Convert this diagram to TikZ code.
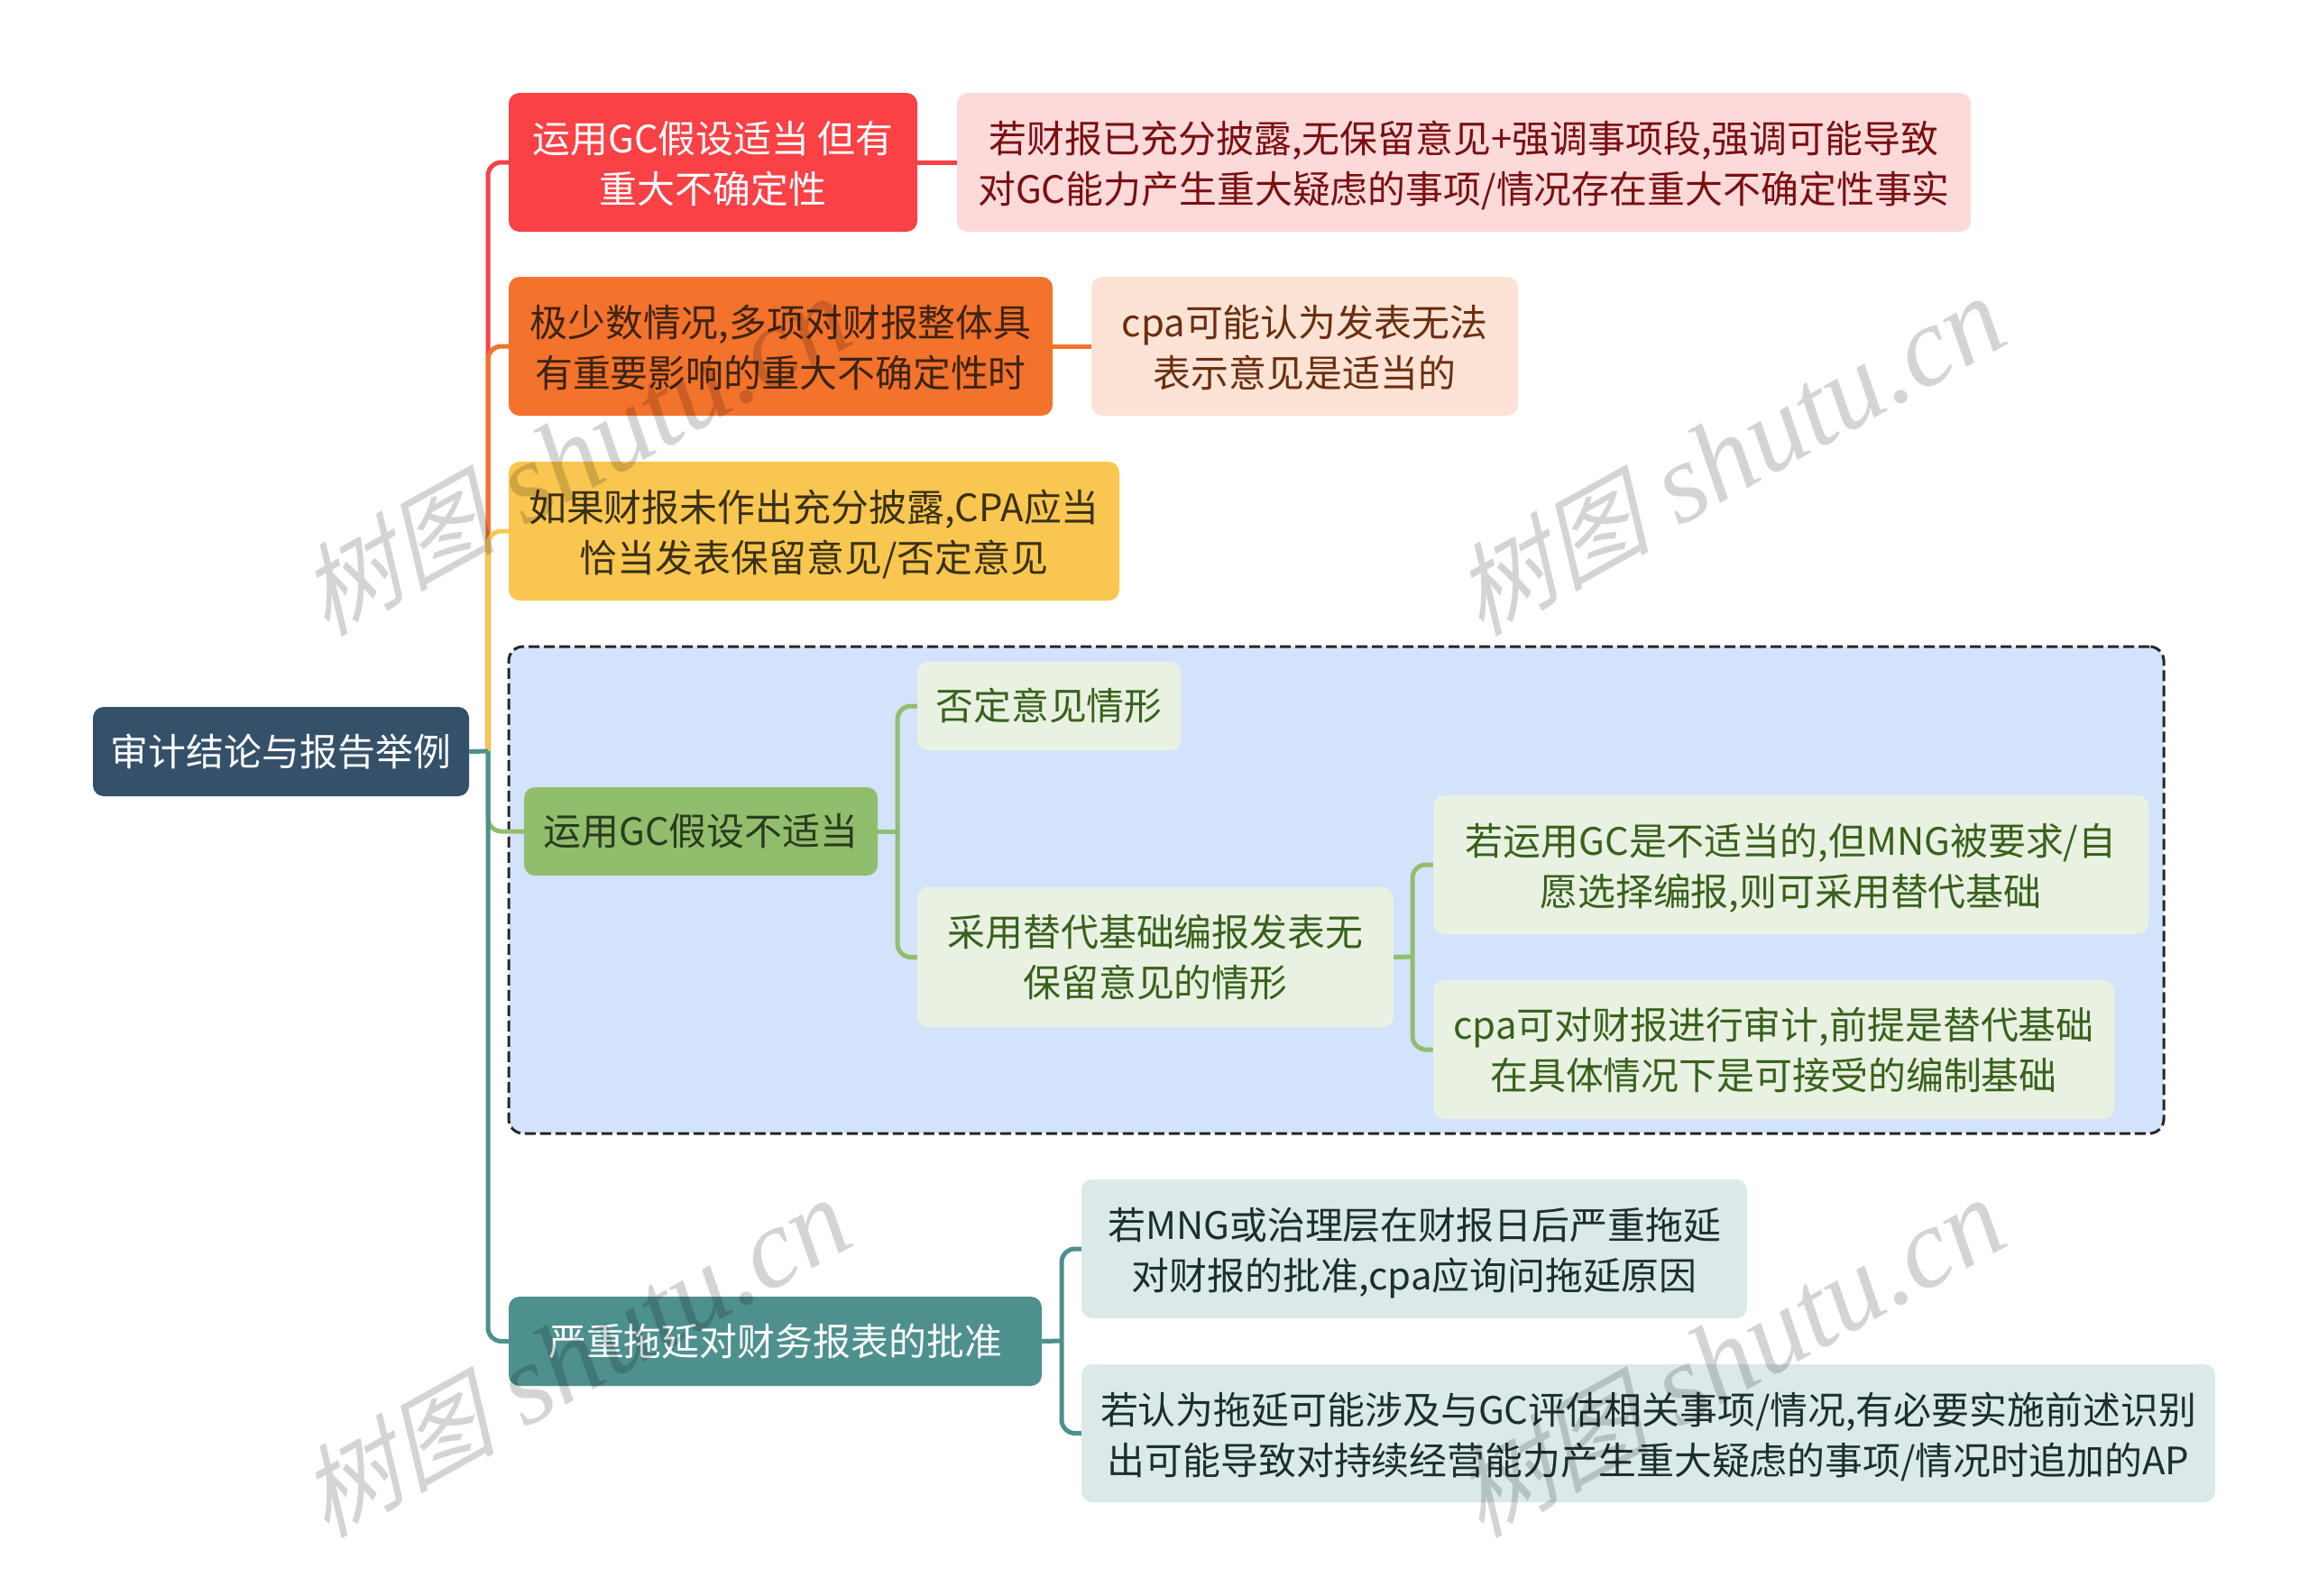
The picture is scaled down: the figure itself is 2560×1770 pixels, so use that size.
\documentclass[tikz,border=0pt]{standalone}
\usepackage{fontspec}
\setmainfont{Noto Sans CJK SC}
\newfontfamily\wmcjk[FakeSlant=0.28]{Noto Sans CJK SC}
\newfontfamily\wmlat{Liberation Serif}
\definecolor{cRed}{HTML}{FA4146}
\definecolor{cOrange}{HTML}{F3722C}
\definecolor{cYellow}{HTML}{F9C74F}
\definecolor{cGreen}{HTML}{90BE6D}
\definecolor{cTeal}{HTML}{4D908E}
\definecolor{cNavy}{HTML}{355069}
\definecolor{lRed}{HTML}{FDD9DA}
\definecolor{lOrange}{HTML}{FDE3D5}
\definecolor{lGreen}{HTML}{E9F2E2}
\definecolor{lTeal}{HTML}{DBE9E9}
\definecolor{lBlue}{HTML}{D3E3FC}
\definecolor{tRed}{HTML}{7A0E10}
\definecolor{tOrange}{HTML}{6B2E0E}
\definecolor{tGreen}{HTML}{38611B}
\definecolor{tTeal}{HTML}{1E2E2E}
\definecolor{tBrown}{HTML}{3D2413}
\definecolor{tOlive}{HTML}{3A3018}
\definecolor{tMoss}{HTML}{2A3B1E}
\newcommand{\wmtext}{{\fontsize{110}{110}\wmcjk\selectfont 树图}{\fontsize{126}{126}\wmlat\itshape\selectfont\ shutu.cn}}
\tikzset{
  x=1pt,y=-1pt,
  mbox/.style={rectangle,rounded corners=12pt,inner sep=0pt,align=center,
    font=\fontsize{41.9}{56}\selectfont},
  lowA/.style={mbox,text depth=0pt},
  lowB/.style={mbox,text depth=-3pt},
  conn/.style={line width=5pt,rounded corners=15pt,line cap=butt},
  groupbox/.style={rectangle,rounded corners=16pt,fill=lBlue,draw=black!85,line width=3pt,
    dash pattern=on 12pt off 5pt,inner sep=0pt},
  wm/.style={rotate=29,black,opacity=0.17,inner sep=0pt}
}
\begin{document}
\begin{tikzpicture}
\useasboundingbox (0,0) rectangle (2560,1770);
\fill[white] (0,0) rectangle (2560,1770);
\node[groupbox,minimum width=1835pt,minimum height=540pt] (grp) at (1481.5,987) {};
\coordinate (trunk) at (541,833);
\coordinate (gv) at (995,922);
\coordinate (hv) at (1566,1061);
\coordinate (sv) at (1177,1487);

\node[mbox,fill=cNavy,text=white,minimum width=417pt,minimum height=99pt] (root) at (311.5,833.5) {审计结论与报告举例};
\node[lowA,fill=cRed,text=white,minimum width=453pt,minimum height=154pt] (b1) at (790.5,180) {运用GC假设适当 但有\\重大不确定性};
\node[lowA,fill=lRed,text=tRed,minimum width=1124pt,minimum height=154pt] (d1) at (1623,180) {若财报已充分披露,无保留意见+强调事项段,强调可能导致\\对GC能力产生重大疑虑的事项/情况存在重大不确定性事实};
\node[lowA,fill=cOrange,text=tBrown,minimum width=603pt,minimum height=154pt] (b2) at (865.5,384) {极少数情况,多项对财报整体具\\有重要影响的重大不确定性时};
\node[lowA,fill=lOrange,text=tOrange,minimum width=473pt,minimum height=154pt] (d2) at (1446.5,384) {cpa可能认为发表无法\\表示意见是适当的};
\node[lowA,fill=cYellow,text=tOlive,minimum width=677pt,minimum height=154pt] (b3) at (902.5,589) {如果财报未作出充分披露,CPA应当\\恰当发表保留意见/否定意见};
\node[mbox,fill=cGreen,text=tMoss,minimum width=392pt,minimum height=98pt] (g) at (777,922) {运用GC假设不适当};
\node[mbox,fill=lGreen,text=tGreen,minimum width=292pt,minimum height=98pt] (h1) at (1163,783) {否定意见情形};
\node[mbox,fill=lGreen,text=tGreen,minimum width=528pt,minimum height=155pt] (h2) at (1281,1061.5) {采用替代基础编报发表无\\保留意见的情形};
\node[lowB,fill=lGreen,text=tGreen,minimum width=793pt,minimum height=154pt] (j1) at (1985.5,959) {若运用GC是不适当的,但MNG被要求/自\\愿选择编报,则可采用替代基础};
\node[mbox,fill=lGreen,text=tGreen,minimum width=755pt,minimum height=154pt] (j2) at (1966.5,1164) {cpa可对财报进行审计,前提是替代基础\\在具体情况下是可接受的编制基础};
\node[mbox,fill=cTeal,text=white,minimum width=591pt,minimum height=99pt] (s) at (859.5,1487.5) {严重拖延对财务报表的批准};
\node[lowB,fill=lTeal,text=tTeal,minimum width=738pt,minimum height=154pt] (k1) at (1568,1385) {若MNG或治理层在财报日后严重拖延\\对财报的批准,cpa应询问拖延原因};
\node[lowA,fill=lTeal,text=tTeal,minimum width=1257pt,minimum height=153pt] (k2) at (1827.5,1589.5) {若认为拖延可能涉及与GC评估相关事项/情况,有必要实施前述识别\\出可能导致对持续经营能力产生重大疑虑的事项/情况时追加的AP};

\draw[conn,cRed] (trunk) |- (b1.west);
\draw[conn,cRed] (b1.east) -- (d1.west);
\draw[conn,cOrange] (trunk) |- (b2.west);
\draw[conn,cOrange] (b2.east) -- (d2.west);
\draw[conn,cYellow] (trunk) |- (b3.west);
\draw[conn,cGreen] (trunk) |- (g.west);
\draw[conn,cGreen] (g.east) -- (gv);
\draw[conn,cGreen] (gv) |- (h1.west);
\draw[conn,cGreen] (gv) |- (h2.west);
\draw[conn,cGreen] (h2.east) -- (hv);
\draw[conn,cGreen] (hv) |- (j1.west);
\draw[conn,cGreen] (hv) |- (j2.west);
\draw[conn,cTeal] (root.east) -- (trunk);
\draw[conn,cTeal] (trunk) |- (s.west);
\draw[conn,cTeal] (s.east) -- (sv);
\draw[conn,cTeal] (sv) |- (k1.west);
\draw[conn,cTeal] (sv) |- (k2.west);

\node[wm] (w1) at (636,506) {\wmtext};
\node[wm] (w2) at (1916,506) {\wmtext};
\node[wm] (w3) at (636,1506) {\wmtext};
\node[wm] (w4) at (1916,1506) {\wmtext};
\end{tikzpicture}
\end{document}
